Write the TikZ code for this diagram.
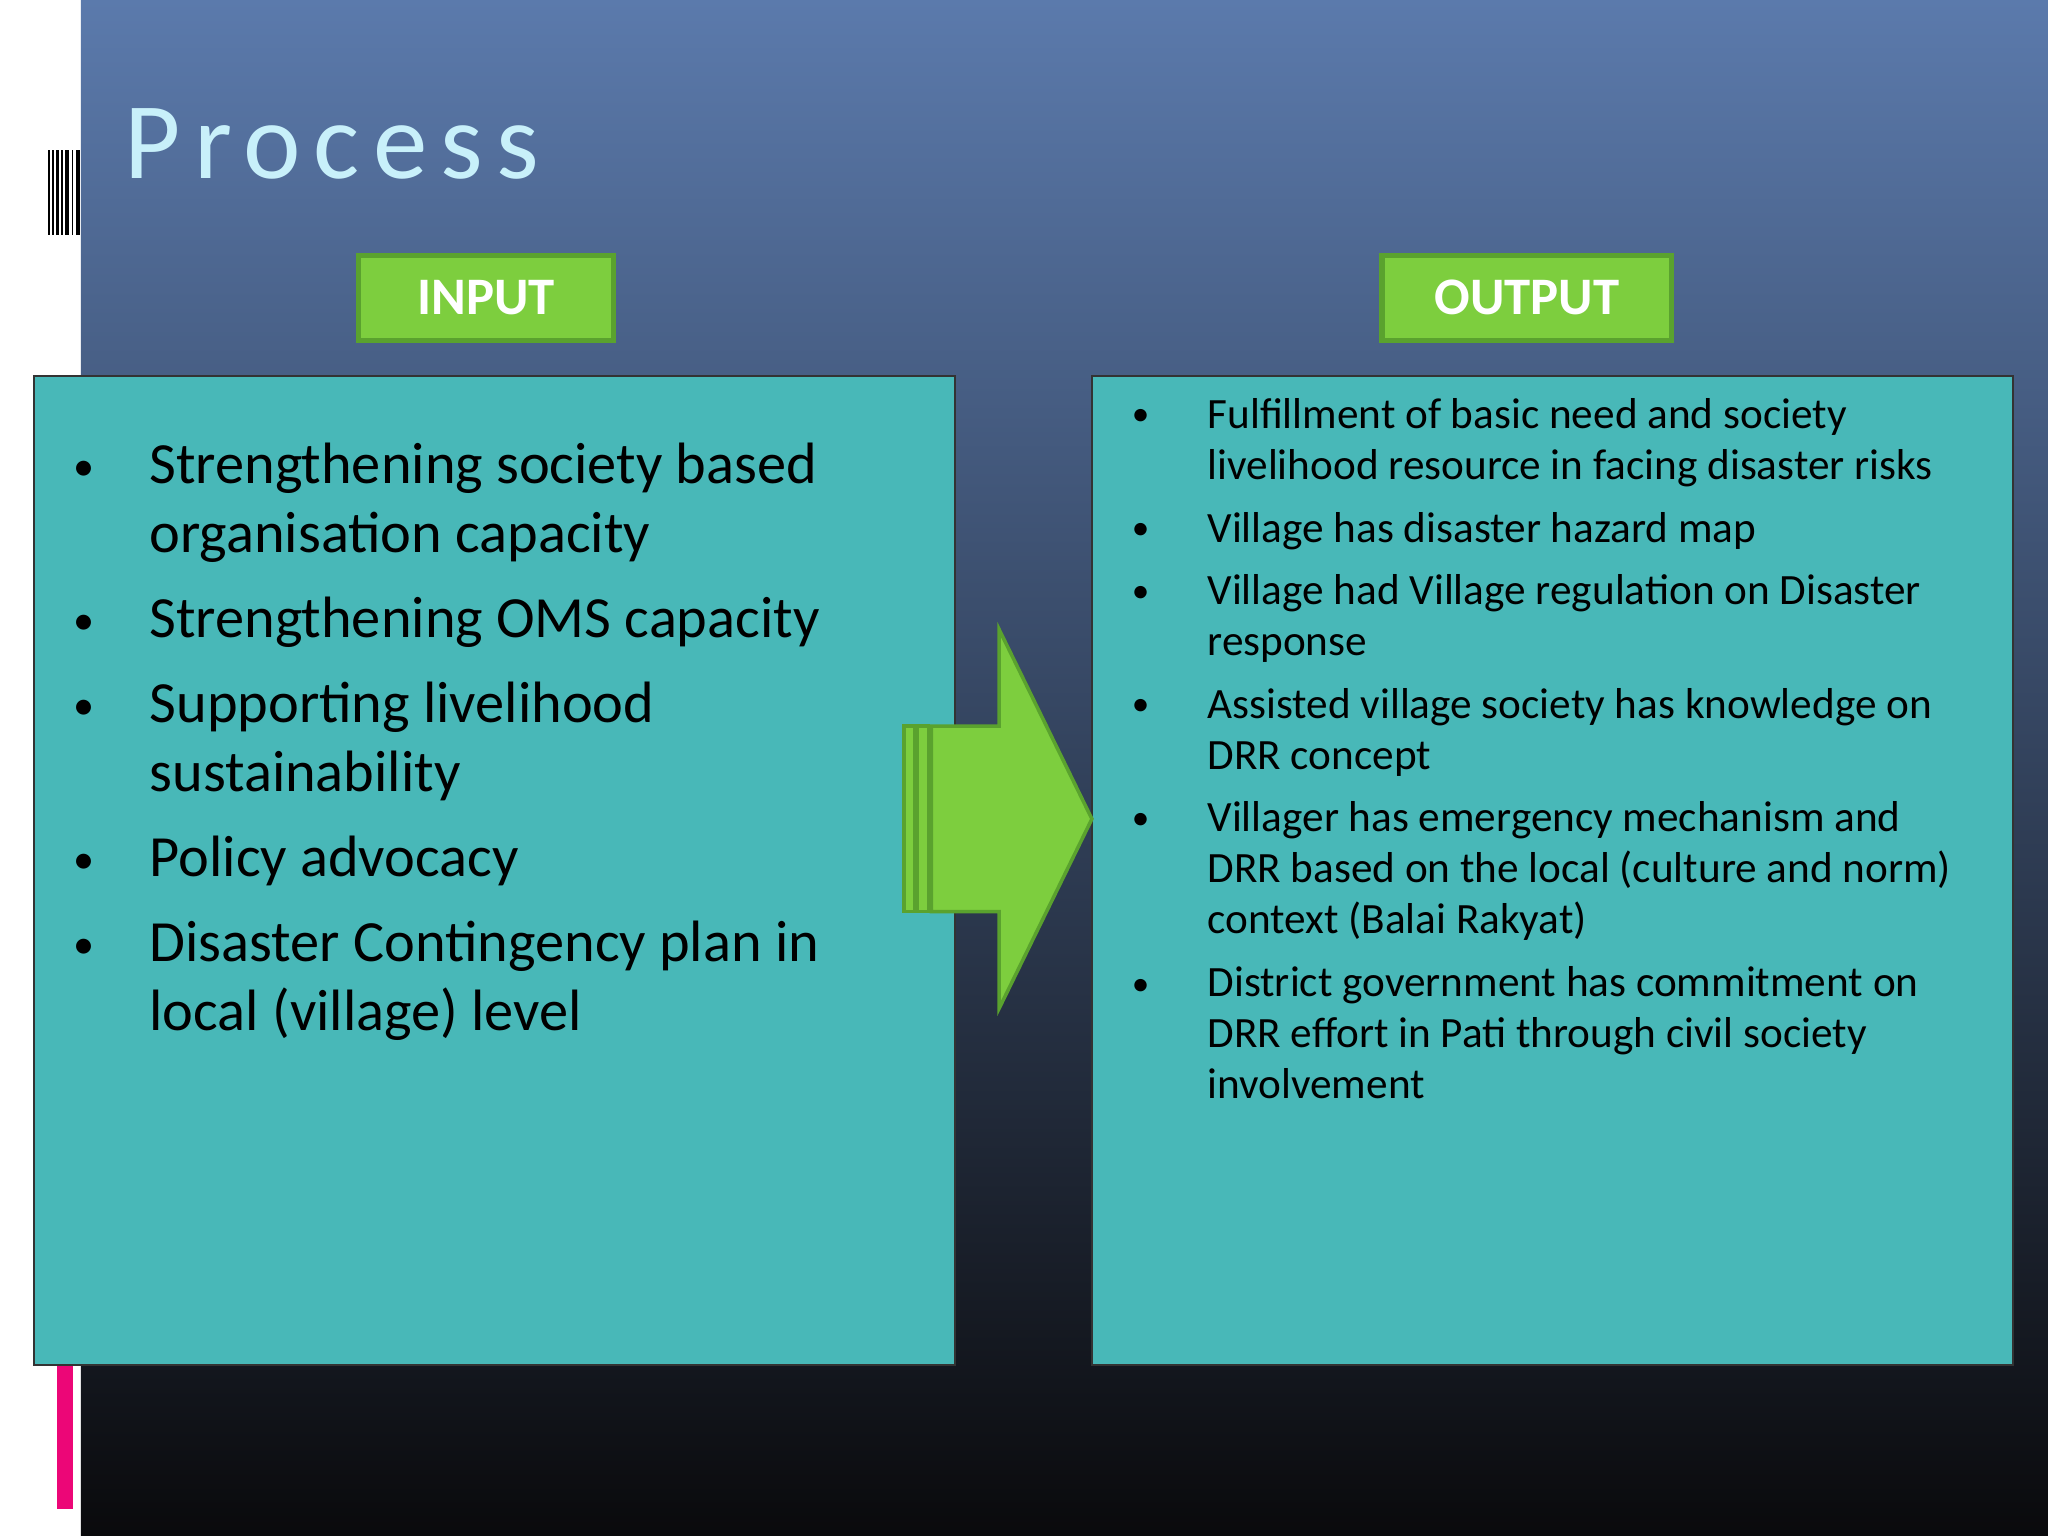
\documentclass[tikz,border=0pt]{standalone}
\usepackage{fontspec}
\setmainfont{Carlito}
\newfontfamily\titlefont[LetterSpace=12]{Carlito}
\begin{document}
\begin{tikzpicture}[x=0.013061cm,y=-0.013061cm,
  lt/.style={anchor=base west,inner sep=0,font=\fontsize{16.6}{20}\selectfont,text=black},
  rt/.style={anchor=base west,inner sep=0,font=\fontsize{12.3}{15}\selectfont,text=black},
  bl/.style={anchor=base west,inner sep=0,font=\fontsize{12}{15}\selectfont,text=black}]
\definecolor{grn}{HTML}{7DCE3E}
\definecolor{grnd}{HTML}{5AA22E}
\definecolor{tl}{HTML}{48B8B8}
\useasboundingbox (0,0) rectangle (1568,1176);
\fill[white] (0,0) rectangle (1568,1176);
\shade[top color={rgb,255:red,91;green,122;blue,172},middle color={rgb,255:red,62;green,78;blue,124},bottom color={rgb,255:red,10;green,10;blue,12}] (62,0) rectangle (1568,1176);
\foreach \x/\w in {37/1.5,40/1,43/2,47/1,50/2.5,55/1,58/3}
  \fill[black] (\x,115) rectangle (\x+\w,180);
\fill[magenta!80!red] (44,1045) rectangle (56,1155);
\node[anchor=base west,inner sep=0,text={rgb,255:red,200;green,240;blue,250},font=\titlefont\fontsize{31}{36}\selectfont] (title) at (95,137) {Process};
\node[draw=grnd,fill=grn,line width=1.5pt,text=white,font=\fontsize{15}{18}\bfseries\selectfont,minimum width=195*0.013061cm,minimum height=65*0.013061cm,inner sep=0] (in) at (372,228) {INPUT};
\node[draw=grnd,fill=grn,line width=1.5pt,text=white,font=\fontsize{15}{18}\bfseries\selectfont,minimum width=222*0.013061cm,minimum height=65*0.013061cm,inner sep=0] (out) at (1169,228) {OUTPUT};
\draw[fill=tl,draw=black!80,line width=0.6pt] (26,288) rectangle (731,1045);
\draw[fill=tl,draw=black!80,line width=0.6pt] (836,288) rectangle (1541,1045);
% arrow
\draw[fill=grn,draw=grnd,line width=1pt] (713,556) -- (765,556) -- (765,482) -- (836,627) -- (765,772) -- (765,698) -- (713,698) -- cycle;
\draw[fill=grn,draw=grnd,line width=1pt] (692,556) rectangle (700,698);
\draw[fill=grn,draw=grnd,line width=1pt] (702,556) rectangle (711,698);
% left text
\foreach \y in {368,486,551,669,734} \node[bl] at (56,\y) {\textbullet};
\foreach \y/\t in {370/Strengthening society based,423/organisation capacity,488/Strengthening OMS capacity,553/Supporting livelihood,606/sustainability,671/Policy advocacy,736/Disaster Contingency plan in,789/local (village) level}
  \node[lt] at (114,\y) {\t};
% right text
\foreach \y in {326,413,461,548,635,762} \node[bl,font=\fontsize{10}{12}\selectfont] at (866,\y) {\textbullet};
\foreach \y/\t in {328/Fulfillment of basic need and society,367/livelihood resource in facing disaster risks,415/Village has disaster hazard map,463/Village had Village regulation on Disaster,502/response,550/Assisted village society has knowledge on,589/DRR concept,637/Villager has emergency mechanism and,676/DRR based on the local (culture and norm),715/context (Balai Rakyat),763/District government has commitment on,802/DRR effort in Pati through civil society,841/involvement}
  \node[rt] at (924,\y) {\t};
\end{tikzpicture}
\end{document}
